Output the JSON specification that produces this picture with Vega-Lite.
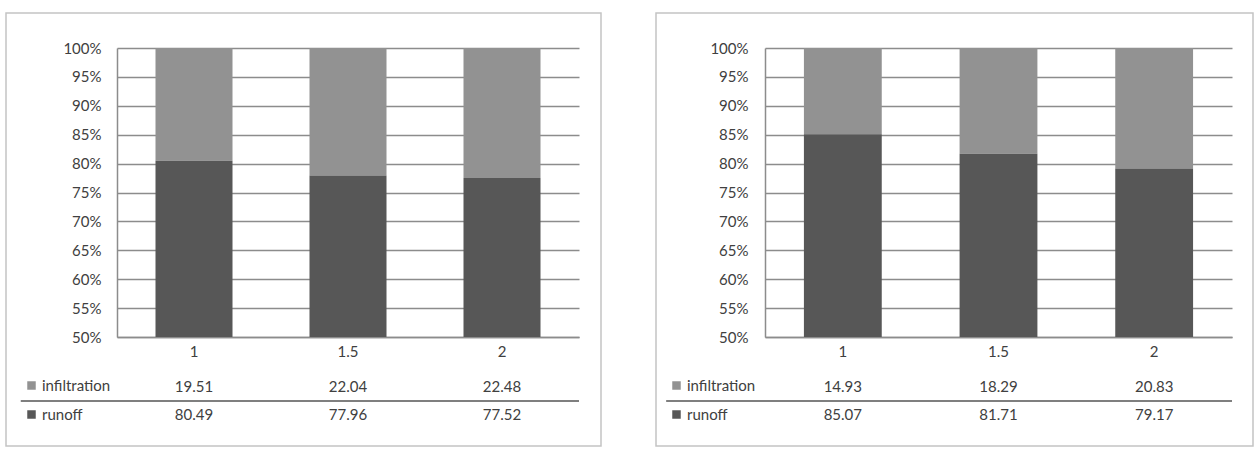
{
  "$schema": "https://vega.github.io/schema/vega-lite/v6.json",
  "padding": {"left": 5, "top": 12, "right": 0, "bottom": 0},
  "background": "white",
  "config": {
    "font": "Lato",
    "view": {"stroke": "#c4c4c4", "strokeWidth": 1.5},
    "axis": {"labelFont": "Lato", "labelFontSize": 15, "labelColor": "#404040"},
    "legend": {"labelFont": "Lato"}
  },
  "datasets": {
    "a": [
      {"x": "1", "series": "infiltration", "value": 19.51},
      {"x": "1.5", "series": "infiltration", "value": 22.04},
      {"x": "2", "series": "infiltration", "value": 22.48},
      {"x": "1", "series": "runoff", "value": 80.49},
      {"x": "1.5", "series": "runoff", "value": 77.96},
      {"x": "2", "series": "runoff", "value": 77.52}
    ],
    "b": [
      {"x": "1", "series": "infiltration", "value": 14.93},
      {"x": "1.5", "series": "infiltration", "value": 18.29},
      {"x": "2", "series": "infiltration", "value": 20.83},
      {"x": "1", "series": "runoff", "value": 85.07},
      {"x": "1.5", "series": "runoff", "value": 81.71},
      {"x": "2", "series": "runoff", "value": 79.17}
    ]
  },
  "spacing": 53,
  "hconcat": [
    {
      "width": 595,
      "height": 433,
      "data": {"name": "a"},
      "layer": [
        {
          "mark": {"type": "bar"},
          "encoding": {
            "x": {
              "field": "x", "type": "nominal", "sort": ["1", "1.5", "2"],
              "scale": {"domain": ["1", "1.5", "2"], "range": [111, 573], "paddingInner": 0.5, "paddingOuter": 0.25},
              "axis": {"orient": "bottom", "offset": -109, "title": null, "labelAngle": 0, "ticks": false, "grid": false, "domainColor": "#8c8c8c", "domainWidth": 1.5, "labelPadding": 7}
            },
            "y": {
              "field": "value", "type": "quantitative", "stack": "zero",
              "scale": {"domain": [50, 100], "range": [324, 35], "clamp": true, "nice": false, "zero": false},
              "axis": {"offset": -111, "title": null, "values": [50, 55, 60, 65, 70, 75, 80, 85, 90, 95, 100], "labelExpr": "datum.value + '%'", "ticks": false, "grid": true, "gridColor": "#8c8c8c", "gridWidth": 1.5, "domainColor": "#8c8c8c", "domainWidth": 1.5, "labelPadding": 16}
            },
            "color": {
              "field": "series", "type": "nominal",
              "scale": {"domain": ["infiltration", "runoff"], "range": ["#929292", "#575757"]},
              "legend": {"orient": "none", "legendX": 18, "legendY": 365, "title": null, "direction": "vertical", "symbolType": "square", "symbolSize": 72, "symbolStrokeWidth": 0, "labelFontSize": 15, "labelColor": "#404040", "labelOffset": 3, "rowPadding": 13, "padding": 0}
            },
            "order": {"field": "series", "sort": "descending"}
          }
        },
        {
          "layer": [
            {
              "mark": {"type": "text", "fontSize": 15, "color": "#404040", "baseline": "middle", "font": "Lato"},
              "encoding": {
                "x": {"field": "x", "type": "nominal", "sort": ["1", "1.5", "2"], "axis": {"title": null}},
                "y": {"field": "series", "type": "nominal", "scale": {"type": "band", "domain": ["infiltration", "runoff"], "range": [360, 416], "paddingInner": 0, "paddingOuter": 0}, "axis": null},
                "text": {"field": "value", "type": "quantitative", "format": ".2f"}
              }
            },
            {
              "data": {"values": [{"line": "separator"}]},
              "mark": {"type": "rule", "color": "#555555", "strokeWidth": 1.3},
              "encoding": {
                "x": {"datum": "1", "bandPosition": -1.75, "axis": {"title": null}},
                "x2": {"datum": "2", "bandPosition": 1.5},
                "y": {"datum": "runoff", "bandPosition": 0, "axis": null}
              }
            }
          ]
        }
      ],
      "resolve": {"scale": {"y": "independent"}, "axis": {"y": "independent"}}
    },
    {
      "width": 597,
      "height": 433,
      "data": {"name": "b"},
      "layer": [
        {
          "mark": {"type": "bar"},
          "encoding": {
            "x": {
              "field": "x", "type": "nominal", "sort": ["1", "1.5", "2"],
              "scale": {"domain": ["1", "1.5", "2"], "range": [109, 576], "paddingInner": 0.5, "paddingOuter": 0.25},
              "axis": {"orient": "bottom", "offset": -109, "title": null, "labelAngle": 0, "ticks": false, "grid": false, "domainColor": "#8c8c8c", "domainWidth": 1.5, "labelPadding": 7}
            },
            "y": {
              "field": "value", "type": "quantitative", "stack": "zero",
              "scale": {"domain": [50, 100], "range": [324, 35], "clamp": true, "nice": false, "zero": false},
              "axis": {"offset": -109, "title": null, "values": [50, 55, 60, 65, 70, 75, 80, 85, 90, 95, 100], "labelExpr": "datum.value + '%'", "ticks": false, "grid": true, "gridColor": "#8c8c8c", "gridWidth": 1.5, "domainColor": "#8c8c8c", "domainWidth": 1.5, "labelPadding": 17}
            },
            "color": {
              "field": "series", "type": "nominal",
              "scale": {"domain": ["infiltration", "runoff"], "range": ["#929292", "#575757"]},
              "legend": {"orient": "none", "legendX": 13, "legendY": 365, "title": null, "direction": "vertical", "symbolType": "square", "symbolSize": 72, "symbolStrokeWidth": 0, "labelFontSize": 15, "labelColor": "#404040", "labelOffset": 3, "rowPadding": 13, "padding": 0}
            },
            "order": {"field": "series", "sort": "descending"}
          }
        },
        {
          "layer": [
            {
              "mark": {"type": "text", "fontSize": 15, "color": "#404040", "baseline": "middle", "font": "Lato"},
              "encoding": {
                "x": {"field": "x", "type": "nominal", "sort": ["1", "1.5", "2"], "axis": {"title": null}},
                "y": {"field": "series", "type": "nominal", "scale": {"type": "band", "domain": ["infiltration", "runoff"], "range": [360, 416], "paddingInner": 0, "paddingOuter": 0}, "axis": null},
                "text": {"field": "value", "type": "quantitative", "format": ".2f"}
              }
            },
            {
              "data": {"values": [{"line": "separator"}]},
              "mark": {"type": "rule", "color": "#555555", "strokeWidth": 1.3},
              "encoding": {
                "x": {"datum": "1", "bandPosition": -1.77, "axis": {"title": null}},
                "x2": {"datum": "2", "bandPosition": 1.5},
                "y": {"datum": "runoff", "bandPosition": 0, "axis": null}
              }
            }
          ]
        }
      ],
      "resolve": {"scale": {"y": "independent"}, "axis": {"y": "independent"}}
    }
  ],
  "resolve": {
    "scale": {"x": "independent", "y": "independent", "color": "independent"},
    "axis": {"x": "independent", "y": "independent"},
    "legend": {"color": "independent"}
  }
}
